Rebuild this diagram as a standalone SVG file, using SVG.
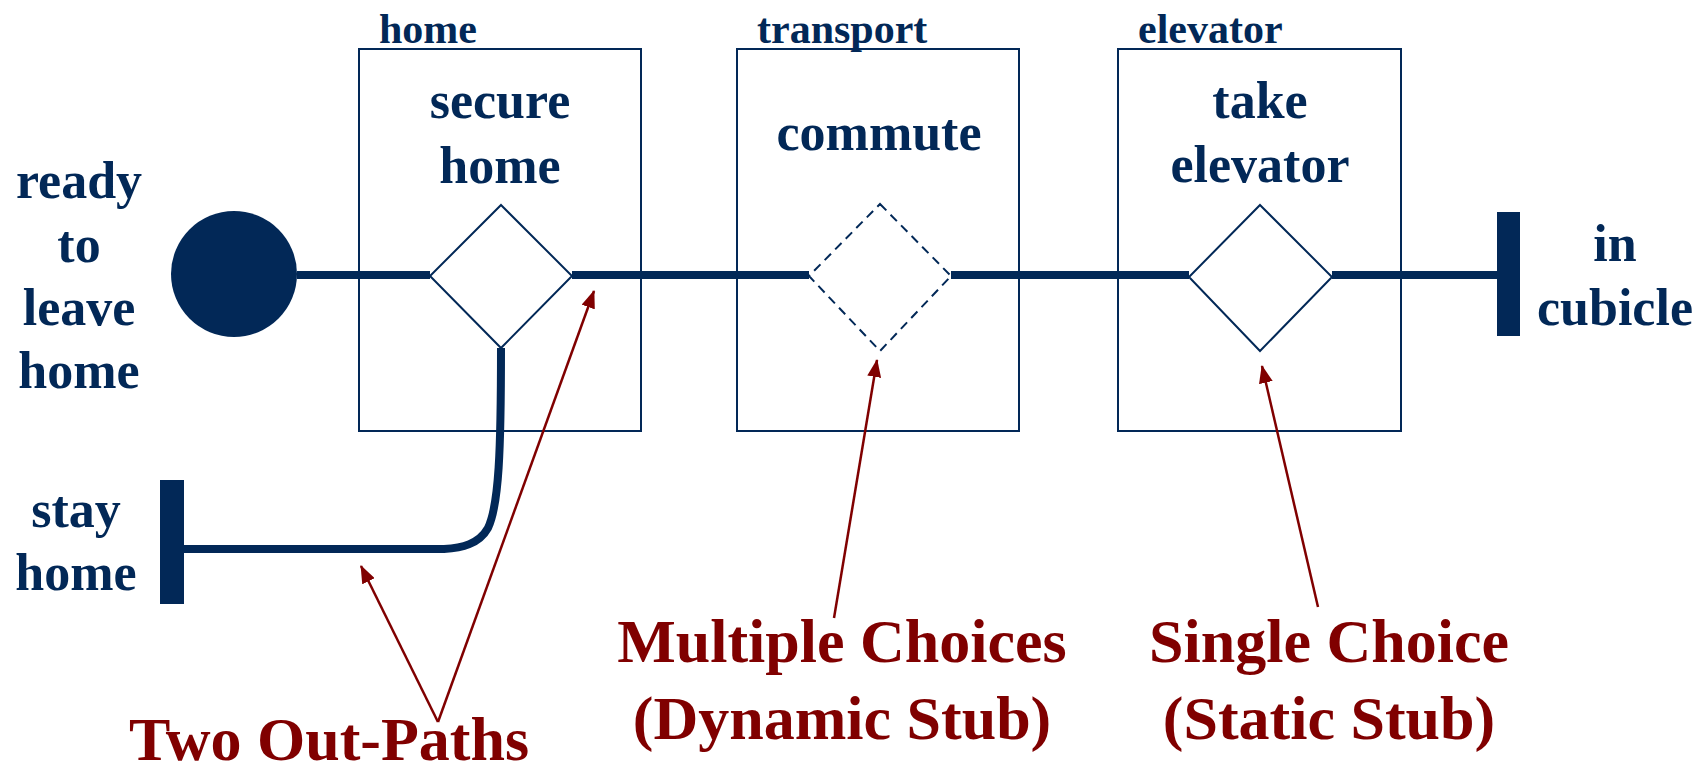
<svg xmlns="http://www.w3.org/2000/svg" width="1699" height="774" viewBox="0 0 1699 774">
<defs>
<style>
.nv{font-family:"Liberation Serif","Times New Roman",serif;font-weight:bold;fill:#022857}
.rd{font-family:"Liberation Serif","Times New Roman",serif;font-weight:bold;fill:#800000;font-size:62px;text-anchor:middle}
.box{fill:none;stroke:#022857;stroke-width:2}
.dia{fill:#fff;stroke:#022857;stroke-width:2}
.path{fill:none;stroke:#022857;stroke-width:8}
.ann{fill:none;stroke:#800000;stroke-width:2.5}
.lbl{font-size:42px}
.big{font-size:52px;text-anchor:middle}
</style>
<marker id="ah" viewBox="0 0 18 14" refX="17" refY="7" markerWidth="18" markerHeight="14" markerUnits="userSpaceOnUse" orient="auto">
<path d="M0,0 L18,7 L0,14 z" fill="#800000"/>
</marker>
</defs>
<rect width="1699" height="774" fill="#fff"/>

<g id="connectors">
<path class="path" d="M297,275 L430,275"/>
<path class="path" d="M572,275 L809,275"/>
<path class="path" d="M951,275 L1189,275"/>
<path class="path" d="M1332,275 L1498,275"/>
<path class="path" d="M501,348 C501,450 499,505 488,528 C479,544 462,548 444,549 L172,549"/>
</g>

<g id="start">
<circle cx="234" cy="274" r="63" fill="#022857"/>
<text class="nv big" x="79" y="198">ready</text>
<text class="nv big" x="79" y="262">to</text>
<text class="nv big" x="79" y="325">leave</text>
<text class="nv big" x="79" y="388">home</text>
</g>

<g id="stub-home">
<rect class="box" x="359" y="49" width="282" height="382"/>
<text class="nv lbl" x="379" y="43">home</text>
<text class="nv big" x="500" y="118">secure</text>
<text class="nv big" x="500" y="183">home</text>
<polygon class="dia" points="501,205 572,276 501,348 430,276"/>
</g>

<g id="stub-transport">
<rect class="box" x="737" y="49" width="282" height="382"/>
<text class="nv lbl" x="757" y="43">transport</text>
<text class="nv big" x="879" y="150">commute</text>
<polygon class="dia" points="880,204 951,276 880,351 809,276" stroke-dasharray="9,6"/>
</g>

<g id="stub-elevator">
<rect class="box" x="1118" y="49" width="283" height="382"/>
<text class="nv lbl" x="1138" y="43">elevator</text>
<text class="nv big" x="1260" y="118">take</text>
<text class="nv big" x="1260" y="182">elevator</text>
<polygon class="dia" points="1260,205 1332,277 1260,351 1189,277"/>
</g>

<g id="end-cubicle">
<rect x="1497" y="212" width="23" height="124" fill="#022857"/>
<text class="nv big" x="1615" y="261">in</text>
<text class="nv big" x="1615" y="325">cubicle</text>
</g>

<g id="end-stay">
<rect x="160" y="480" width="24" height="124" fill="#022857"/>
<text class="nv big" x="76" y="527">stay</text>
<text class="nv big" x="76" y="590">home</text>
</g>

<g id="annotations">
<line class="ann" x1="438" y1="722" x2="594" y2="291" marker-end="url(#ah)"/>
<line class="ann" x1="438" y1="722" x2="361" y2="566" marker-end="url(#ah)"/>
<line class="ann" x1="834" y1="618" x2="877" y2="360" marker-end="url(#ah)"/>
<line class="ann" x1="1318" y1="607" x2="1262" y2="366" marker-end="url(#ah)"/>
<text class="rd" x="329" y="760">Two Out-Paths</text>
<text class="rd" x="842" y="662">Multiple Choices</text>
<text class="rd" x="842" y="739">(Dynamic Stub)</text>
<text class="rd" x="1329" y="662">Single Choice</text>
<text class="rd" x="1329" y="739">(Static Stub)</text>
</g>
</svg>
